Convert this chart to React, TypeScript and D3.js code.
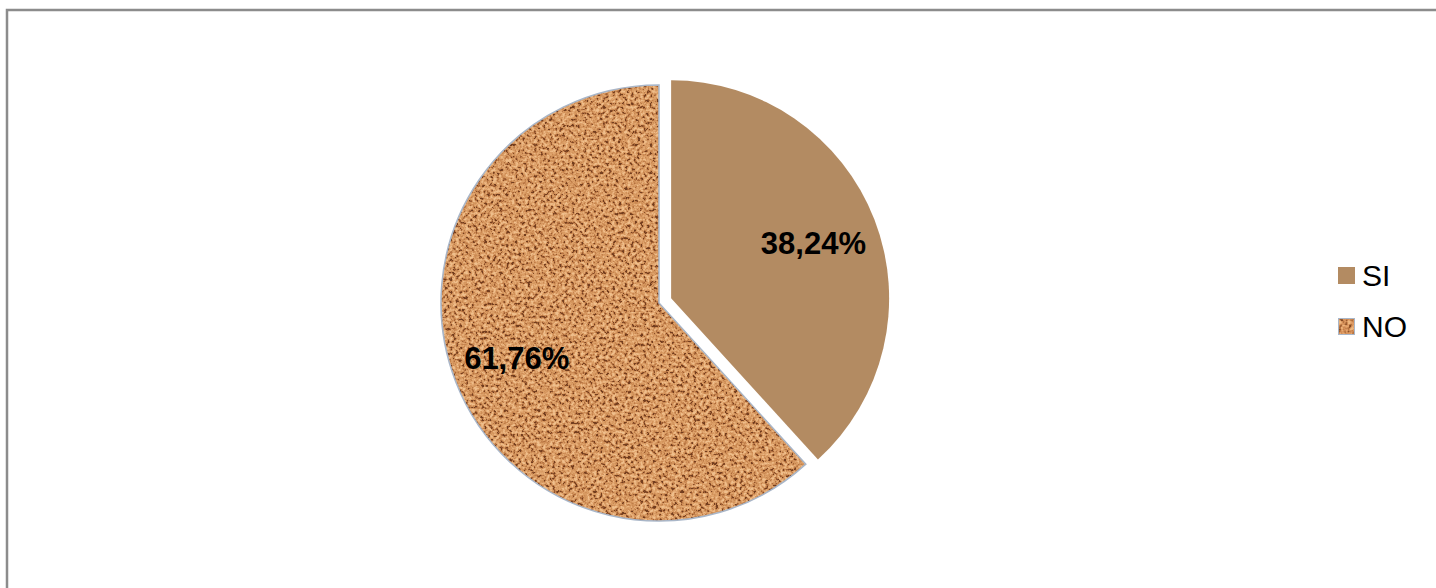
import React from "react";
import * as d3 from "d3";

const categories = ["SI", "NO"];
const values = [38.24, 61.76];
const labels = ["38,24%", "61,76%"];

const W = 1436;
const H = 588;
const cx = 659;
const cy = 303;
const R = 218;
const explode = 13;

export default function App() {
  const pie = d3.pie<number>().sort(null).value((d) => d)(values);
  const arc = d3.arc<d3.PieArcDatum<number>>().innerRadius(0).outerRadius(R);
  const labelArc = d3.arc<d3.PieArcDatum<number>>().innerRadius(R * 0.7).outerRadius(R * 0.7);

  return (
    <div style={{ position: "fixed", left: 0, top: 0 }}>
      <svg width={W} height={H} style={{ display: "block", background: "#fff" }}>
        <defs>
          <filter id="cork" x="0" y="0" width="100%" height="100%" filterUnits="objectBoundingBox" colorInterpolationFilters="sRGB">
            <feTurbulence type="fractalNoise" baseFrequency="0.32" numOctaves="3" seed="7" result="n" />
            <feColorMatrix
              in="n"
              type="matrix"
              values="1 0 0 0 0  1 0 0 0 0  1 0 0 0 0  0 0 0 0 1"
              result="g"
            />
            <feComponentTransfer in="g" result="s">
              <feFuncR type="linear" slope="2.3" intercept="-0.65" />
              <feFuncG type="linear" slope="2.3" intercept="-0.65" />
              <feFuncB type="linear" slope="2.3" intercept="-0.65" />
              <feFuncA type="linear" slope="0" intercept="1" />
            </feComponentTransfer>
            <feComponentTransfer in="s">
              <feFuncR type="table" tableValues="0.45 0.66 0.78 0.83 0.86 0.89 0.92 0.94" />
              <feFuncG type="table" tableValues="0.24 0.40 0.52 0.58 0.62 0.66 0.71 0.75" />
              <feFuncB type="table" tableValues="0.12 0.22 0.31 0.36 0.40 0.45 0.50 0.55" />
              <feFuncA type="linear" slope="0" intercept="1" />
            </feComponentTransfer>
          </filter>
          <filter id="corkSmall" x="0" y="0" width="100%" height="100%" filterUnits="objectBoundingBox" colorInterpolationFilters="sRGB">
            <feTurbulence type="fractalNoise" baseFrequency="0.3" numOctaves="2" seed="3" result="n" />
            <feColorMatrix
              in="n"
              type="matrix"
              values="1 0 0 0 0  1 0 0 0 0  1 0 0 0 0  0 0 0 0 1"
              result="g"
            />
            <feComponentTransfer in="g" result="s">
              <feFuncR type="linear" slope="2.3" intercept="-0.65" />
              <feFuncG type="linear" slope="2.3" intercept="-0.65" />
              <feFuncB type="linear" slope="2.3" intercept="-0.65" />
              <feFuncA type="linear" slope="0" intercept="1" />
            </feComponentTransfer>
            <feComponentTransfer in="s">
              <feFuncR type="table" tableValues="0.50 0.70 0.82 0.88 0.93" />
              <feFuncG type="table" tableValues="0.28 0.44 0.55 0.62 0.72" />
              <feFuncB type="table" tableValues="0.14 0.24 0.34 0.40 0.50" />
              <feFuncA type="linear" slope="0" intercept="1" />
            </feComponentTransfer>
          </filter>
          <clipPath id="noClip">
            <path d={arc(pie[1]) || ""} transform={`translate(${cx},${cy})`} />
          </clipPath>
        </defs>

        <rect x={7} y={10} width={W + 20} height={H + 20} fill="none" stroke="#8c8c8c" strokeWidth={2.5} />

        {pie.map((p, i) => {
          const mid = (p.startAngle + p.endAngle) / 2;
          const dx = i === 0 ? Math.sin(mid) * explode : 0;
          const dy = i === 0 ? -Math.cos(mid) * explode : 0;
          const [lx, ly] = labelArc.centroid(p);
          return (
            <g key={categories[i]} transform={`translate(${cx + dx},${cy + dy})`}>
              {i === 0 ? (
                <path d={arc(p) || ""} fill="#b38b62" />
              ) : (
                <g>
                  <g clipPath="url(#noClip)" transform={`translate(${-cx},${-cy})`}>
                    <rect x={cx - R - 2} y={cy - R - 2} width={2 * R + 4} height={2 * R + 4} filter="url(#cork)" />
                  </g>
                  <path d={arc(p) || ""} fill="none" stroke="#a9b6c8" strokeWidth={1.5} />
                </g>
              )}
              <text
                x={lx}
                y={ly}
                textAnchor="middle"
                dominantBaseline="central"
                fontFamily="Liberation Sans, Arial, sans-serif"
                fontWeight="bold"
                fontSize={31}
                fill="#000"
              >
                {labels[i]}
              </text>
            </g>
          );
        })}

        {categories.map((c, i) => (
          <g key={c} transform={`translate(1338,${267 + i * 51})`}>
            {i === 0 ? (
              <rect x={0} y={0} width={17} height={17} fill="#b38b62" />
            ) : (
              <g>
                <rect x={0} y={0} width={17} height={17} filter="url(#corkSmall)" />
                <rect x={0.5} y={0.5} width={16} height={16} fill="none" stroke="#a9b6c8" strokeWidth={1} />
              </g>
            )}
            <text
              x={24}
              y={8.5}
              dominantBaseline="central"
              fontFamily="Liberation Sans, Arial, sans-serif"
              fontSize={30}
              fill="#000"
            >
              {c}
            </text>
          </g>
        ))}
      </svg>
    </div>
  );
}
